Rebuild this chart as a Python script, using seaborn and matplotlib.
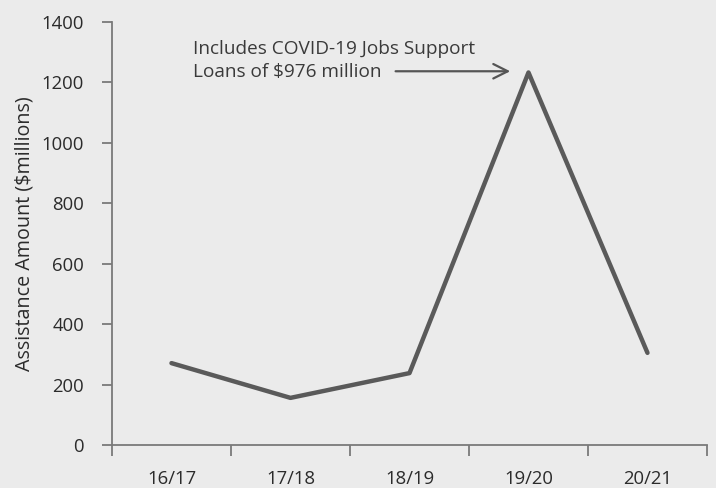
import matplotlib
matplotlib.use("Agg")
import matplotlib.pyplot as plt
import seaborn as sns
import pandas as pd

# data
years = ["16/17", "17/18", "18/19", "19/20", "20/21"]
amounts = [271, 156, 238, 1233, 305]
y_ticks = [0, 200, 400, 600, 800, 1000, 1200, 1400]

bg = "#ebebeb"
line_col = "#5a5a5a"
axis_col = "#7a7a7a"
text_col = "#2b2b2b"

sns.set_style("ticks")
plt.rcParams["font.family"] = ["Open Sans", "DejaVu Sans"]

df = pd.DataFrame({"year": years, "amount": amounts})

fig = plt.figure(figsize=(7.16, 4.88), dpi=100, facecolor=bg)
ax = fig.add_axes([0.1564, 0.0881, 0.831, 0.8668])
ax.set_facecolor(bg)

sns.lineplot(data=df, x="year", y="amount", ax=ax, color=line_col,
             linewidth=3.2, sort=False)

ax.set_xlim(-0.5, len(years) - 0.5)
ax.set_ylim(0, 1400)
ax.set_yticks(y_ticks)
ax.set_yticklabels([str(v) for v in y_ticks])

# category boundaries carry the tick marks, labels sit in between
ax.set_xticks([i - 0.5 for i in range(len(years) + 1)])
ax.set_xticklabels([""] * (len(years) + 1))
ax.set_xticks(range(len(years)), minor=True)
ax.set_xticklabels(years, minor=True)
ax.tick_params(axis="x", which="major", bottom=True, length=8, width=1.3,
               color=axis_col, direction="out")
ax.tick_params(axis="x", which="minor", bottom=True, length=0, pad=18,
               labelsize=13.3, labelcolor=text_col)
ax.tick_params(axis="y", left=True, length=7, width=1.3, color=axis_col,
               direction="out", pad=13, labelsize=13.3, labelcolor=text_col)

for side in ["top", "right"]:
    ax.spines[side].set_visible(False)
for side in ["left", "bottom"]:
    ax.spines[side].set_color(axis_col)
    ax.spines[side].set_linewidth(1.3)

ax.set_xlabel("")
ax.set_ylabel("Assistance Amount ($millions)", fontsize=14.2,
              color=text_col, labelpad=5)

ax.text(0.18, 1272, "Includes COVID-19 Jobs Support\nLoans of $976 million",
        fontsize=13.7, color="#3a3a3a", va="center", ha="left",
        linespacing=1.32)
ax.annotate("", xy=(2.87, 1237), xytext=(1.86, 1237),
            arrowprops=dict(arrowstyle="->", color="#555555", lw=1.6,
                            mutation_scale=26))

fig.savefig("out.png", dpi=100, facecolor=bg)
